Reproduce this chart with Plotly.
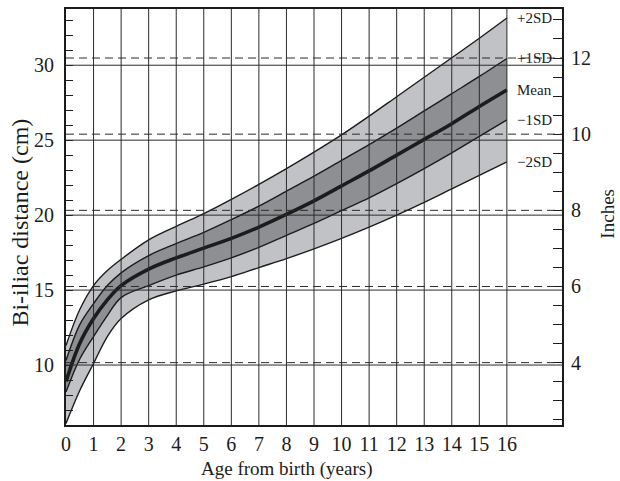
import plotly.graph_objects as go

# Bi-iliac distance reference curves (cm) by age from birth (years)
age = [0, 0.5, 1, 1.5, 2, 3, 4, 5, 6, 7, 8, 9, 10, 11, 12, 13, 14, 15, 16]
plus_2sd = [11.3, 13.7, 15.3, 16.3, 17.05, 18.35, 19.25, 20.1, 21.05, 22.05,
            23.1, 24.2, 25.35, 26.6, 27.9, 29.2, 30.5, 31.8, 33.15]
plus_1sd = [10.3, 12.7, 14.1, 15.3, 16.15, 17.3, 18.1, 18.85, 19.7, 20.6,
            21.6, 22.6, 23.65, 24.7, 25.8, 26.95, 28.1, 29.25, 30.45]
mean = [8.9, 11.45, 13.1, 14.35, 15.3, 16.4, 17.15, 17.8, 18.45, 19.2,
        20.05, 20.95, 21.95, 22.95, 24.0, 25.05, 26.1, 27.25, 28.35]
minus_1sd = [8.2, 10.4, 11.9, 13.3, 14.5, 15.3, 16.0, 16.55, 17.15, 17.85,
             18.65, 19.45, 20.3, 21.15, 22.1, 23.1, 24.15, 25.25, 26.35]
minus_2sd = [6.1, 8.3, 10.1, 11.9, 13.1, 14.35, 14.95, 15.4, 15.9, 16.5,
             17.1, 17.75, 18.45, 19.2, 20.0, 20.85, 21.75, 22.65, 23.55]

series_labels = ["+2SD", "+1SD", "Mean", "\u22121SD", "\u22122SD"]
year_ticks = list(range(0, 17))
cm_lines = [10, 15, 20, 25, 30]
inch_lines = [4, 6, 8, 10, 12]

CM_PER_INCH = 2.54
Y_RANGE = [6.0, 33.75]
X_RANGE = [0, 18]

INK = "#1c1c1c"
LIGHT = "#c1c2c5"
DARK = "#8e8f93"
FONT = "Liberation Serif, Times New Roman, serif"

fig = go.Figure()

# shaded bands: +/-2SD (light) and +/-1SD (dark)
for lo, hi, colour in [(minus_2sd, plus_2sd, LIGHT), (minus_1sd, plus_1sd, DARK)]:
    fig.add_trace(go.Scatter(x=age, y=lo, mode="lines",
                             line=dict(width=0, shape="spline"),
                             hoverinfo="skip", showlegend=False))
    fig.add_trace(go.Scatter(x=age, y=hi, mode="lines",
                             line=dict(width=0, shape="spline"),
                             fill="tonexty", fillcolor=colour,
                             hoverinfo="skip", showlegend=False))

# centile curves
for vals, width in [(plus_2sd, 1.4), (plus_1sd, 1.4), (mean, 3.6),
                    (minus_1sd, 1.4), (minus_2sd, 1.4)]:
    fig.add_trace(go.Scatter(x=age, y=vals, mode="lines",
                             line=dict(color=INK, width=width, shape="spline"),
                             hoverinfo="skip", showlegend=False))

# inch axis binding
fig.add_trace(go.Scatter(x=[None], y=[None], yaxis="y2", showlegend=False))

shapes = []
for yr in year_ticks[1:]:
    shapes.append(dict(type="line", xref="x", yref="paper", x0=yr, x1=yr,
                       y0=0, y1=1, layer="above",
                       line=dict(color="#2b2b2b", width=1)))
for cm in cm_lines:
    shapes.append(dict(type="line", xref="paper", yref="y", x0=0, x1=1,
                       y0=cm, y1=cm, layer="above",
                       line=dict(color="#2b2b2b", width=1)))
for inch in inch_lines:
    y = inch * CM_PER_INCH
    shapes.append(dict(type="line", xref="paper", yref="y", x0=0, x1=1,
                       y0=y, y1=y, layer="above",
                       line=dict(color="#2b2b2b", width=1, dash="8px,5px")))

annotations = []
for text, vals in zip(series_labels, [plus_2sd, plus_1sd, mean, minus_1sd, minus_2sd]):
    annotations.append(dict(x=17, y=vals[-1], xref="x", yref="y", text=text,
                            showarrow=False, xanchor="center", yanchor="middle",
                            font=dict(family=FONT, size=15, color=INK)))
annotations.append(dict(x=8, y=0, xref="x", yref="paper", yshift=-44,
                        text="Age from birth (years)", showarrow=False,
                        xanchor="center", yanchor="middle",
                        font=dict(family=FONT, size=19, color=INK)))
annotations.append(dict(x=0, y=19.5, xref="paper", yref="y", xshift=-46,
                        text="Bi-iliac distance (cm)", textangle=-90,
                        showarrow=False, xanchor="center", yanchor="middle",
                        font=dict(family=FONT, size=24, color=INK)))
annotations.append(dict(x=1, y=20.1, xref="paper", yref="y", xshift=46,
                        text="Inches", textangle=-90,
                        showarrow=False, xanchor="center", yanchor="middle",
                        font=dict(family=FONT, size=19, color=INK)))

fig.update_layout(
    width=620, height=481,
    margin=dict(l=66, r=58, t=7, b=56),
    paper_bgcolor="white", plot_bgcolor="white",
    showlegend=False,
    shapes=shapes, annotations=annotations,
    font=dict(family=FONT, size=20, color=INK),
    xaxis=dict(range=X_RANGE, tickmode="array", tickvals=year_ticks,
               ticktext=[str(v) for v in year_ticks],
               showgrid=False, zeroline=False, ticks="",
               showline=True, mirror=True, linecolor=INK, linewidth=2,
               tickfont=dict(family=FONT, size=20, color=INK)),
    yaxis=dict(range=Y_RANGE, tickmode="array", tickvals=cm_lines,
               showgrid=False, zeroline=False,
               ticks="inside", ticklen=7, tickcolor=INK,
               minor=dict(tickmode="linear", tick0=0, dtick=1,
                          ticks="inside", ticklen=7, tickcolor=INK),
               showline=True, mirror=True, linecolor=INK, linewidth=2,
               ticklabelstandoff=6,
               tickfont=dict(family=FONT, size=20, color=INK)),
    yaxis2=dict(range=[Y_RANGE[0] / CM_PER_INCH, Y_RANGE[1] / CM_PER_INCH],
                overlaying="y", side="right", tickmode="array",
                tickvals=inch_lines, showgrid=False, zeroline=False,
                showline=False, ticks="inside", ticklen=9, tickcolor=INK,
                minor=dict(tickmode="linear", tick0=0, dtick=0.5,
                           ticks="inside", ticklen=9, tickcolor=INK),
                ticklabelstandoff=8,
                tickfont=dict(family=FONT, size=20, color=INK)),
)

fig.write_html("out.html")
